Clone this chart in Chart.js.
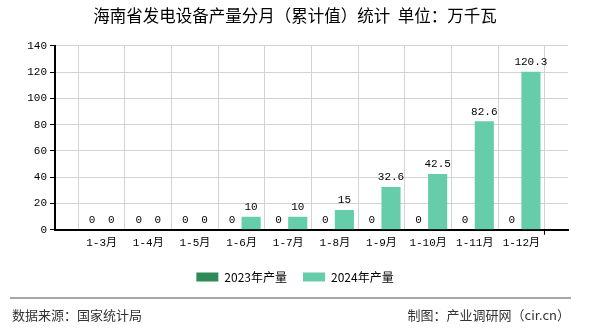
<!DOCTYPE html>
<html>
<head>
<meta charset="utf-8">
<script src="https://cdn.jsdelivr.net/npm/chart.js@4/dist/chart.umd.min.js"></script>
<style>
body { margin: 0; background: #fff; }
</style>
</head>
<body>
<canvas id="mychart" width="590" height="330"></canvas>
<script>
const months = ['1-3月', '1-4月', '1-5月', '1-6月', '1-7月', '1-8月', '1-9月', '1-10月', '1-11月', '1-12月'];
const output2023 = [0, 0, 0, 0, 0, 0, 0, 0, 0, 0];
const output2024 = [0, 0, 0, 10, 10, 15, 32.6, 42.5, 82.6, 120.3];
const seriesNames = ['2023年产量', '2024年产量'];
const seriesColors = ['#2e8b57', '#66cdaa'];
const yMin = 0, yMax = 140, yStep = 20;

const numFont = '"Liberation Mono", "Noto Sans CJK SC", monospace';
const cjkFont = '"Noto Sans CJK SC", "Noto Sans", sans-serif';

// empty slot on each side so the labels sit on the grid lines
const labels = [''].concat(months, ['']);
const pad = arr => [null].concat(arr, [null]);

// value labels above the bars
const valueLabels = {
    id: 'valueLabels',
    afterDatasetsDraw(chart) {
        const c = chart.ctx;
        c.save();
        c.font = '11px ' + numFont;
        c.fillStyle = '#000';
        c.textAlign = 'center';
        c.textBaseline = 'bottom';
        chart.data.datasets.forEach((ds, i) => {
            chart.getDatasetMeta(i).data.forEach((bar, j) => {
                const v = ds.data[j];
                if (v === null) return;
                c.fillText(String(v), bar.x, bar.y - 4);
            });
        });
        c.restore();
    }
};

// source line at the bottom
const footer = {
    id: 'footer',
    afterDraw(chart) {
        const c = chart.ctx;
        c.save();
        c.strokeStyle = '#888';
        c.lineWidth = 1.5;
        c.beginPath();
        c.moveTo(10, 298);
        c.lineTo(571, 298);
        c.stroke();
        c.font = '13px ' + cjkFont;
        c.fillStyle = '#333';
        c.textBaseline = 'middle';
        c.textAlign = 'left';
        c.fillText('数据来源：国家统计局', 12, 315);
        c.textAlign = 'right';
        c.fillText('制图：产业调研网（cir.cn）', 570, 315);
        c.restore();
    }
};

const chart = new Chart(document.getElementById('mychart').getContext('2d'), {
    type: 'bar',
    data: {
        labels: labels,
        datasets: [{
            label: seriesNames[0],
            backgroundColor: seriesColors[0],
            data: pad(output2023)
        }, {
            label: seriesNames[1],
            backgroundColor: seriesColors[1],
            data: pad(output2024)
        }]
    },
    options: {
        responsive: false,
        animation: false,
        layout: { padding: { left: 0, right: 0, top: 0, bottom: 37 } },
        datasets: { bar: { categoryPercentage: 0.82, barPercentage: 1 } },
        plugins: {
            title: {
                display: true,
                text: '海南省发电设备产量分月（累计值）统计  单位：万千瓦',
                color: '#000',
                font: { family: cjkFont, size: 16.5, weight: 'normal' },
                padding: { top: 6, bottom: 20 }
            },
            legend: {
                position: 'bottom',
                labels: {
                    boxWidth: 22,
                    boxHeight: 9,
                    padding: 16,
                    color: '#000',
                    font: { family: cjkFont, size: 12 }
                }
            },
            tooltip: { enabled: false }
        },
        scales: {
            x: {
                offset: false,
                border: { color: '#000', width: 2 },
                grid: {
                    color: '#d3d3d3',
                    tickLength: 5,
                    tickColor: ctx => (ctx.index === 0 || ctx.index === labels.length - 1) ? '#000' : 'rgba(0,0,0,0)'
                },
                ticks: {
                    color: '#000',
                    font: { family: numFont, size: 11 },
                    maxRotation: 0,
                    autoSkip: false,
                    padding: 2
                },
                afterFit(scale) { scale.height += 3; }
            },
            y: {
                min: yMin,
                max: yMax,
                border: { color: '#000', width: 2 },
                grid: { color: '#d3d3d3', tickLength: 5, tickColor: '#000' },
                ticks: {
                    stepSize: yStep,
                    color: '#000',
                    font: { family: numFont, size: 11 },
                    padding: 3
                },
                afterFit(scale) { scale.width = 55; }
            },
            // empty right-hand axis, only keeps room on the right
            yRight: {
                position: 'right',
                min: yMin,
                max: yMax,
                grid: { display: false },
                border: { display: false },
                ticks: { display: false },
                afterFit(scale) { scale.width = 22; }
            }
        }
    },
    plugins: [valueLabels, footer]
});
</script>
</body>
</html>
